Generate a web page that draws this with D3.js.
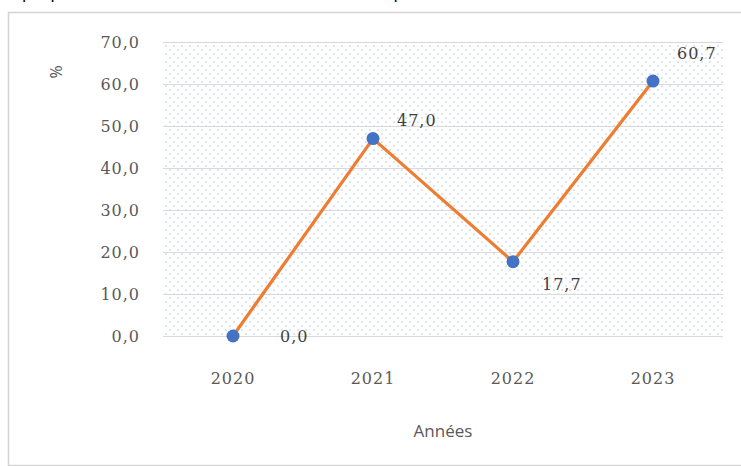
<!DOCTYPE html>
<html><head><meta charset="utf-8">
<script src="https://cdn.jsdelivr.net/npm/d3@7"></script>
<style>html,body{margin:0;padding:0;background:#fff;overflow:hidden}</style>
</head><body>
<script>
const categories = ["2020", "2021", "2022", "2023"];
const values = [0.0, 47.0, 17.7, 60.7];
const valueLabels = ["0,0", "47,0", "17,7", "60,7"];
const yTicks = [0, 10, 20, 30, 40, 50, 60, 70];
const yTickLabels = ["0,0", "10,0", "20,0", "30,0", "40,0", "50,0", "60,0", "70,0"];
const titleText = "Graphique 5 : Évolution du taux de réalisation des dépenses d'investissement de la commune";

const W = 741, H = 466;
const svg = d3.select("body").append("svg").attr("width", W).attr("height", H);

const defs = svg.append("defs");
const pat = defs.append("pattern").attr("id", "dots").attr("patternUnits", "userSpaceOnUse")
  .attr("width", 8).attr("height", 8);
pat.append("circle").attr("cx", 2).attr("cy", 2).attr("r", 0.85).attr("fill", "#bccbe3");
pat.append("circle").attr("cx", 6).attr("cy", 6).attr("r", 0.85).attr("fill", "#bccbe3");

// partially visible caption at the top (cut off by the page edge, as in the reference)
svg.append("text").attr("x", -6).attr("y", -1).attr("font-family", "Liberation Sans, Arial, sans-serif")
  .attr("font-size", 17).attr("fill", "#000").text(titleText);

// chart frame
svg.append("rect").attr("x", 8.5).attr("y", 12.5).attr("width", W).attr("height", H - 13)
  .attr("fill", "#fff").attr("stroke", "#d4d4d4").attr("stroke-width", 1.5);

const x = d3.scaleBand().domain(categories).range([163, 723]);
const y = d3.scaleLinear().domain([0, 70]).range([336, 42]);

// plot area pattern
svg.append("rect").attr("x", 163).attr("y", y(70)).attr("width", 560).attr("height", y(0) - y(70))
  .attr("fill", "url(#dots)");

// gridlines
svg.append("g").selectAll("line").data(yTicks).join("line")
  .attr("x1", 163).attr("x2", 723).attr("y1", d => y(d) + 0.5).attr("y2", d => y(d) + 0.5)
  .attr("stroke", "#d9d9d9").attr("stroke-width", 1.2);

// y axis labels
const yAxis = d3.axisLeft(y).tickValues(yTicks).tickSize(0).tickPadding(0)
  .tickFormat((d, i) => yTickLabels[i]);
const gy = svg.append("g").attr("transform", "translate(140,0)").call(yAxis);
gy.select(".domain").remove();
gy.selectAll("text").attr("font-family", "DejaVu Serif, serif").attr("font-size", 16)
  .attr("fill", "#595959").attr("letter-spacing", "1px").attr("dy", "0.35em");

// x axis labels
const xAxis = d3.axisBottom(x).tickSize(0).tickPadding(0);
const gx = svg.append("g").attr("transform", "translate(0,378)").call(xAxis);
gx.select(".domain").remove();
gx.selectAll("text").attr("font-family", "DejaVu Serif, serif").attr("font-size", 16)
  .attr("fill", "#595959").attr("letter-spacing", "1px").attr("dy", "0.35em");

// axis titles
svg.append("text").attr("transform", "translate(56,72) rotate(-90)").attr("text-anchor", "middle")
  .attr("dominant-baseline", "central").attr("font-family", "Open Sans, sans-serif")
  .attr("font-size", 16).attr("fill", "#595959").text("%");
svg.append("text").attr("x", 443).attr("y", 430).attr("text-anchor", "middle")
  .attr("dominant-baseline", "central").attr("font-family", "Open Sans, sans-serif")
  .attr("font-size", 17).attr("fill", "#595959").text("Années");

// line
const cx = c => x(c) + x.bandwidth() / 2;
const data = categories.map((c, i) => ({ c, v: values[i], l: valueLabels[i] }));
svg.append("path").datum(data)
  .attr("d", d3.line().x(d => cx(d.c)).y(d => y(d.v)))
  .attr("fill", "none").attr("stroke", "#ed7d31").attr("stroke-width", 3.2)
  .attr("stroke-linejoin", "round").attr("stroke-linecap", "round");

svg.append("g").selectAll("circle").data(data).join("circle")
  .attr("cx", d => cx(d.c)).attr("cy", d => y(d.v)).attr("r", 6.5).attr("fill", "#4472c4");

// data labels (offsets relative to points)
const offs = [[47, 0], [24, -18], [29, 23], [24, -28]];
svg.append("g").selectAll("text").data(data).join("text")
  .attr("x", (d, i) => cx(d.c) + offs[i][0]).attr("y", (d, i) => y(d.v) + offs[i][1])
  .attr("dominant-baseline", "central").attr("font-family", "DejaVu Serif, serif")
  .attr("font-size", 16).attr("letter-spacing", "1px").attr("fill", "#404040").text(d => d.l);
</script>
</body></html>
